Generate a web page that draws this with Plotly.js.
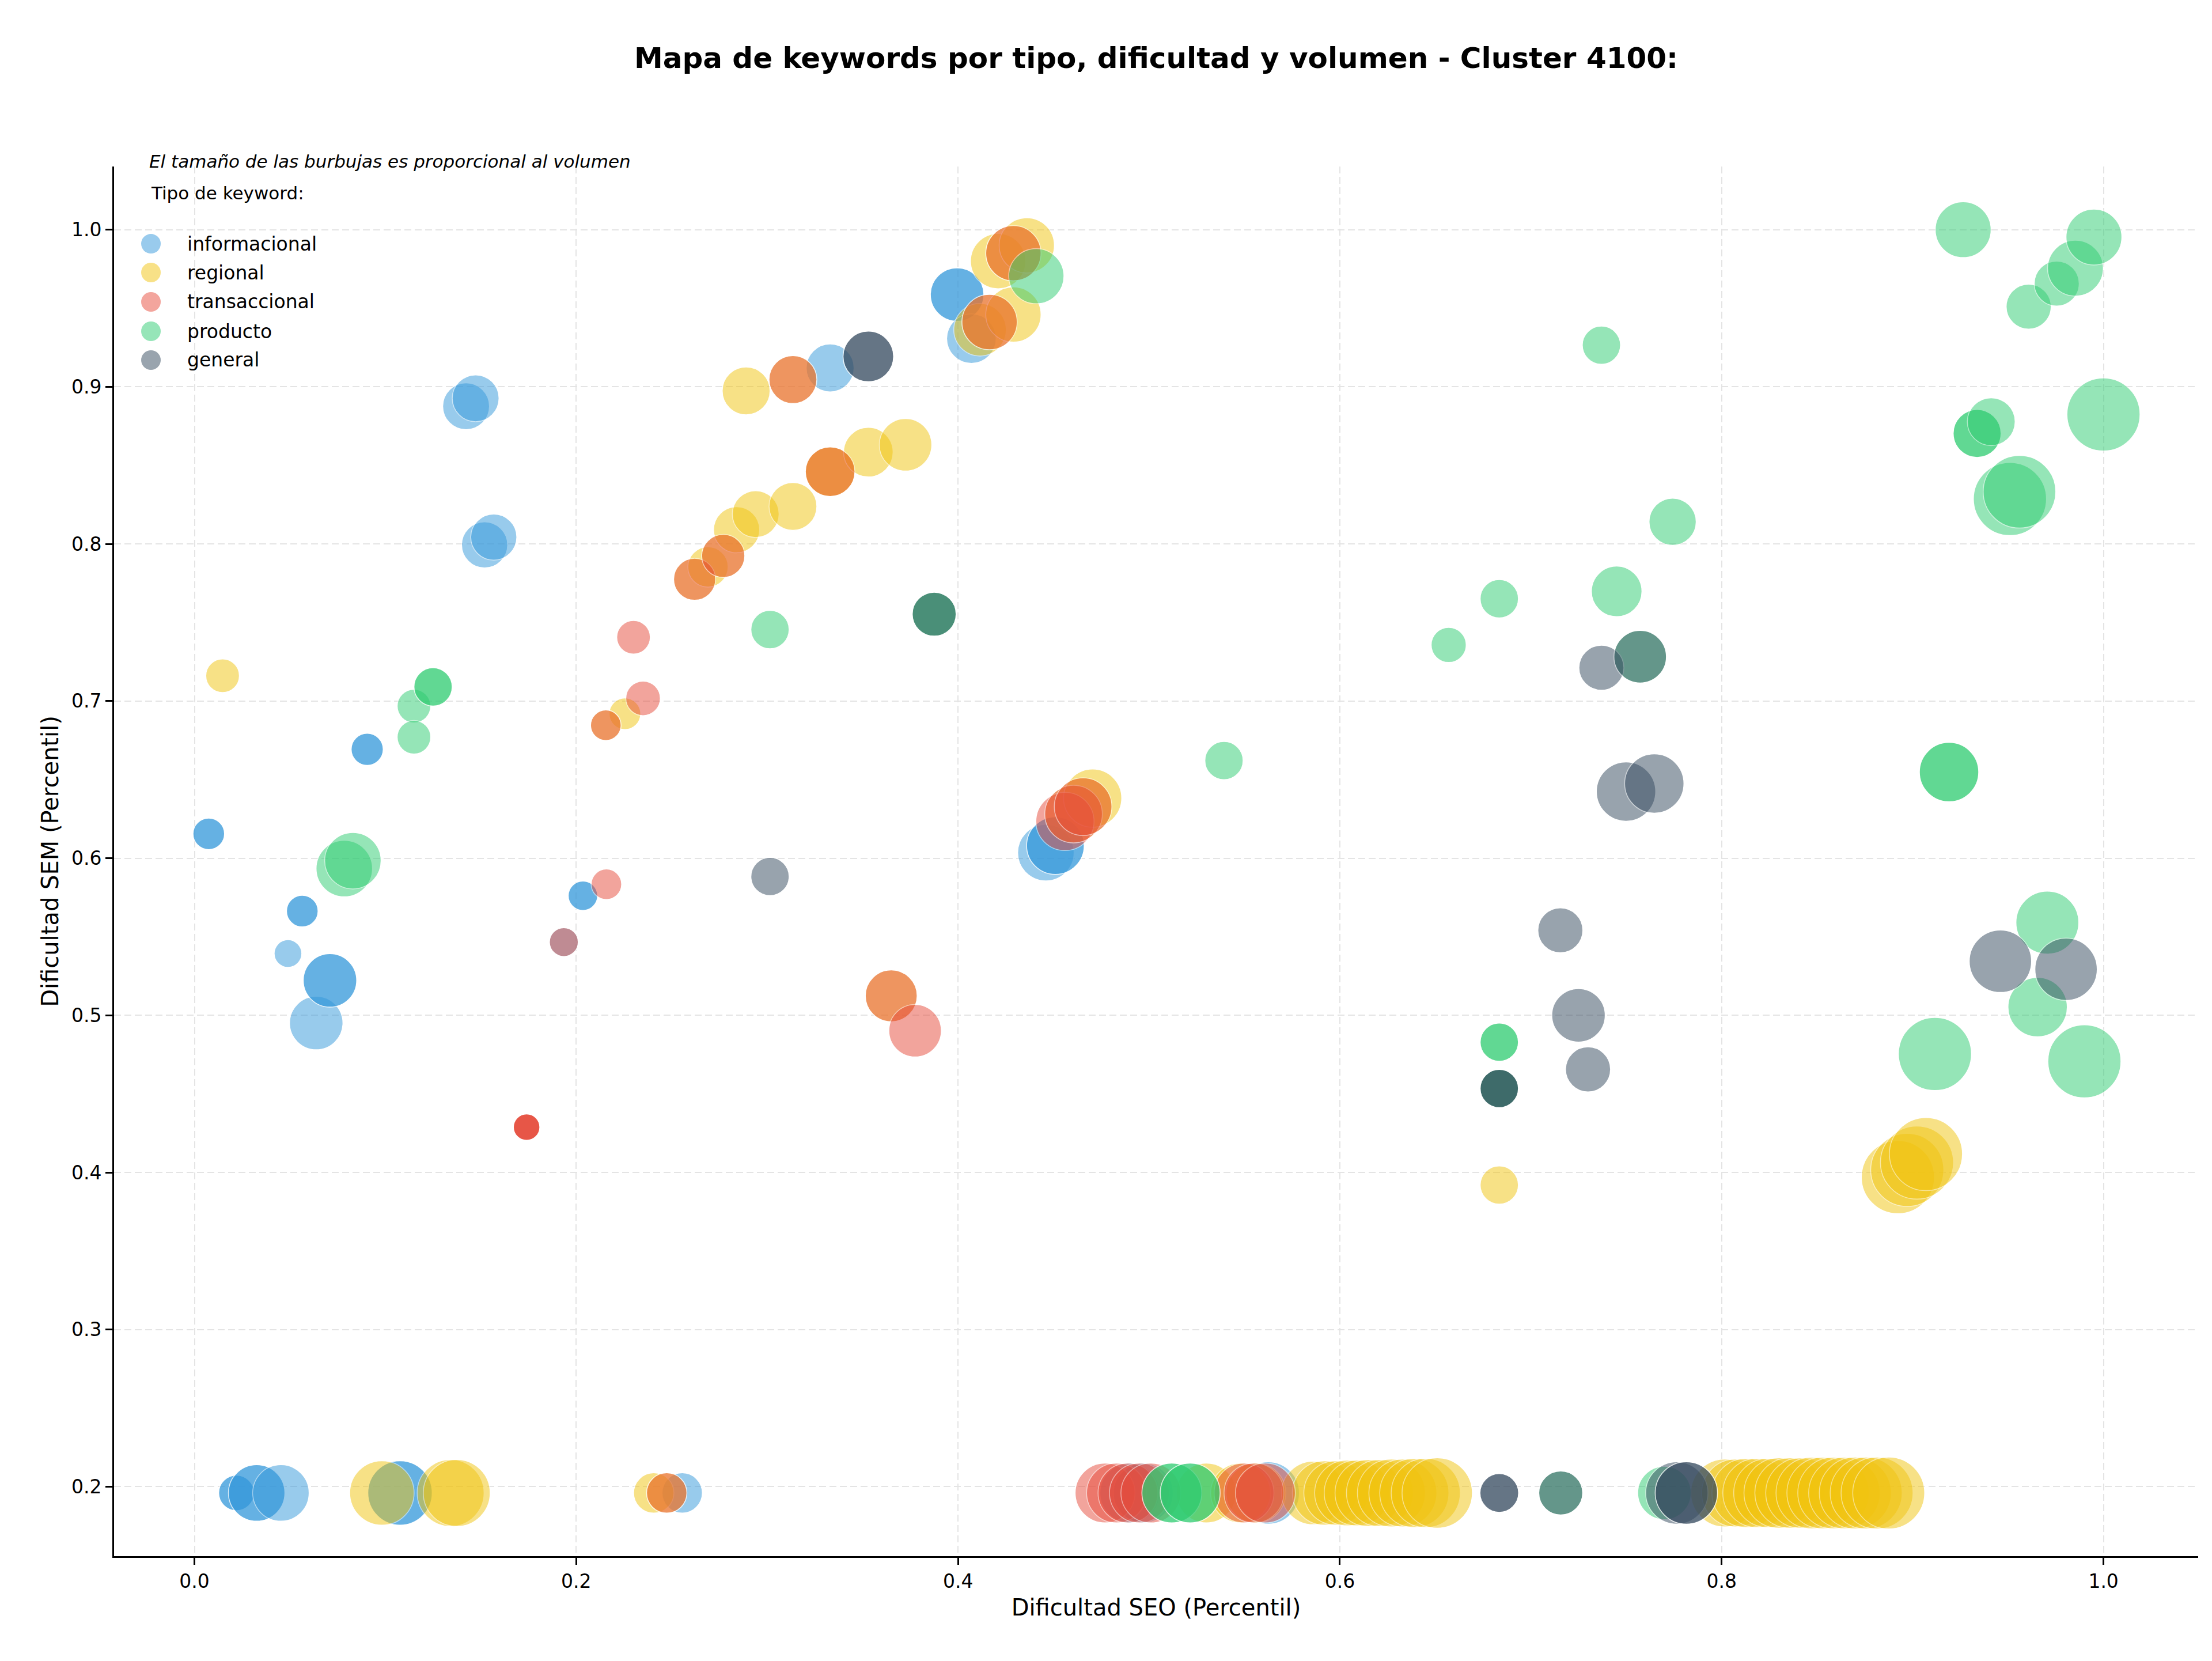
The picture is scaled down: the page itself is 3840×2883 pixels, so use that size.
<!DOCTYPE html>
<html>
<head>
<meta charset="utf-8">
<script src="https://cdn.plot.ly/plotly-3.0.1.min.js"></script>
<style>html,body{margin:0;padding:0;background:#fff;}#chart{width:3840px;height:2883px;}</style>
</head>
<body>
<div id="chart"></div>
<script>
// ---- Data ----
const tipos = ["informacional", "regional", "transaccional", "producto", "general"];
const colores = ["#3498db", "#f1c40f", "#e74c3c", "#2ecc71", "#34495e"];

const informacional_seo = [0.0075,0.0075,0.049,0.0565,0.0565,0.0638,0.071,0.071,0.0905,0.0905,0.1423,0.1473,0.152,0.1568,0.1935,0.2035,0.2035,0.333,0.3995,0.3995,0.407,0.446,0.451,0.451,
  0.022,0.022,0.0326,0.0326,0.0453,0.1077,0.1077,0.2555,0.49,0.497,0.5625];
const informacional_sem = [0.6155,0.6155,0.5393,0.5663,0.5663,0.4951,0.5222,0.5222,0.6693,0.6693,0.8876,0.8927,0.7994,0.8043,0.5466,0.5761,0.5761,0.912,0.9587,0.9587,0.9307,0.6035,0.608,0.608,
  0.196,0.196,0.196,0.196,0.196,0.196,0.196,0.196,0.196,0.196,0.196];
const informacional_vol = [30,30,23,30,30,86,86,86,31,31,66,66,64,64,25,26,26,69,86,86,74,96,100,100,
  38,38,96,96,96,125,125,49,108,108,117];

const regional_seo = [0.01475,0.2255,0.2155,0.262,0.269,0.277,0.284,0.289,0.294,0.3135,0.3135,0.333,0.333,0.353,0.3725,0.4115,0.4165,0.421,0.429,0.429,0.436,0.4605,0.4655,0.4705,0.365,0.6835,0.8923,0.8972,0.9023,0.907,
  0.0982,0.1342,0.1374,0.2406,0.2474,0.53,0.548,0.556,
  0.586,0.592,0.598,0.604,0.609,0.615,0.621,0.627,0.633,0.639,0.645,0.651,
  0.8016,0.8073,0.813,0.8187,0.8244,0.8301,0.8358,0.8415,0.8472,0.8529,0.8586,0.8643,0.87,0.8757,0.8814,0.8875];
const regional_sem = [0.7161,0.6919,0.6846,0.7775,0.7854,0.7924,0.809,0.8974,0.819,0.9046,0.8239,0.846,0.846,0.8584,0.8631,0.9363,0.9412,0.980,0.946,0.985,0.990,0.6281,0.6328,0.6382,0.5124,0.392,0.397,0.4016,0.4063,0.4117,
  0.196,0.196,0.196,0.196,0.196,0.196,0.196,0.196,
  0.196,0.196,0.196,0.196,0.196,0.196,0.196,0.196,0.196,0.196,0.196,0.196,
  0.196,0.196,0.196,0.196,0.196,0.196,0.196,0.196,0.196,0.196,0.196,0.196,0.196,0.196,0.196,0.196];
const regional_vol = [34,30,28,53,49,56,64,69,66,69,69,74,74,74,83,83,92,92,92,92,92,100,100,102,81,44,161,161,161,161,
  125,135,135,49,49,108,108,108,
  121,125,125,130,130,135,135,139,139,144,144,149,
  139,139,144,144,144,149,149,149,154,154,154,154,156,156,156,156];

const transaccional_seo = [0.174,0.174,0.174,0.174,0.1935,0.2158,0.2155,0.230,0.235,0.262,0.277,0.3135,0.333,0.4165,0.429,0.456,0.4605,0.4655,0.365,0.3775,
  0.2474,0.477,0.483,0.489,0.495,0.501,0.5498,0.555,0.561];
const transaccional_sem = [0.4288,0.4288,0.4288,0.4288,0.5466,0.5834,0.6846,0.7406,0.7017,0.7775,0.7924,0.9046,0.846,0.9412,0.985,0.6234,0.6281,0.6328,0.5124,0.4902,
  0.196,0.196,0.196,0.196,0.196,0.196,0.196,0.196,0.196];
const transaccional_vol = [21,21,21,21,25,28,28,34,36,53,56,69,74,92,92,102,100,100,81,83,
  49,108,108,108,108,108,108,108,108];

const producto_seo = [0.0785,0.083,0.115,0.115,0.125,0.125,0.3015,0.3875,0.3875,0.441,0.5393,0.657,0.6835,0.6835,0.6835,0.6835,0.6835,0.737,0.745,0.7573,0.7743,0.9117,0.9191,0.9191,0.9265,0.9338,0.9338,0.9412,0.951,0.956,0.9608,0.9655,0.9706,0.9755,0.9853,0.990,0.995,1.0,
  0.512,0.512,0.5216,0.5216,0.7157,0.770];
const producto_sem = [0.5934,0.5984,0.6968,0.677,0.709,0.709,0.7455,0.7553,0.7553,0.9704,0.6621,0.7357,0.7651,0.4829,0.4829,0.4534,0.4534,0.9265,0.7698,0.7282,0.8141,0.4754,0.6548,0.6548,1.0,0.8703,0.8703,0.8778,0.8286,0.8332,0.951,0.5052,0.559,0.9657,0.9755,0.4707,0.9953,0.8824,
  0.196,0.196,0.196,0.196,0.196,0.196];
const producto_vol = [96,96,34,34,44,44,44,58,58,92,44,37,44,44,44,44,44,44,77,83,67,161,106,106,94,69,69,69,161,159,61,106,119,61,94,161,94,161,
  108,108,108,108,58,86];

const general_seo = [0.3015,0.353,0.353,0.3875,0.6835,0.6835,0.7155,0.725,0.73,0.737,0.7499,0.7573,0.7647,0.946,0.9804,
  0.6835,0.6835,0.7157,0.7765,0.7815,0.7815];
const general_sem = [0.5883,0.9193,0.9193,0.7553,0.4534,0.4534,0.5541,0.50,0.4656,0.7212,0.6424,0.7282,0.6475,0.5344,0.5293,
  0.196,0.196,0.196,0.196,0.196,0.196];
const general_vol = [44,77,77,58,44,44,61,86,61,61,106,83,106,117,117,
  45,45,58,117,117,117];

const xTicks = [0.0, 0.2, 0.4, 0.6, 0.8, 1.0];
const yTicks = [0.2, 0.3, 0.4, 0.5, 0.6, 0.7, 0.8, 0.9, 1.0];

// ---- Build ----
const FONT = "DejaVu Sans";
const series = [
  [informacional_seo, informacional_sem, informacional_vol],
  [regional_seo, regional_sem, regional_vol],
  [transaccional_seo, transaccional_sem, transaccional_vol],
  [producto_seo, producto_sem, producto_vol],
  [general_seo, general_sem, general_vol]
];
const sizeOf = v => 10 * Math.sqrt(v);

const traces = series.map((s, i) => ({
  type: "scatter",
  mode: "markers",
  name: tipos[i],
  x: s[0], y: s[1],
  showlegend: false,
  hoverinfo: "skip",
  marker: {
    color: colores[i],
    opacity: 0.5,
    size: s[2].map(sizeOf),
    sizemode: "diameter",
    line: {color: "white", width: 1.5}
  }
}));

function hexA(hex, a) {
  const r = parseInt(hex.slice(1,3),16), g = parseInt(hex.slice(3,5),16), b = parseInt(hex.slice(5,7),16);
  return `rgba(${r},${g},${b},${a})`;
}

// manual legend (matplotlib style, larger markers)
const legY = [0.9444, 0.9237, 0.9026, 0.8814, 0.8607];
const shapes = tipos.map((t, i) => ({
  type: "circle", xref: "paper", yref: "paper",
  xsizemode: "pixel", ysizemode: "pixel",
  xanchor: 0.0177, yanchor: legY[i],
  x0: -17, x1: 17, y0: -17, y1: 17,
  fillcolor: hexA(colores[i], 0.5),
  line: {width: 0}
}));
const annotations = tipos.map((t, i) => ({
  xref: "paper", yref: "paper", x: 0.0345, y: legY[i],
  xanchor: "left", yanchor: "middle", align: "left", showarrow: false,
  text: t, font: {family: FONT, size: 33, color: "#000"}
}));
annotations.push({
  xref: "paper", yref: "paper", x: 0.0171, y: 0.9809,
  xanchor: "left", yanchor: "middle", align: "left", showarrow: false,
  text: "Tipo de keyword:", font: {family: FONT, size: 31, color: "#000"}
});
annotations.push({
  xref: "paper", yref: "paper", x: 0.0163, y: 1.0037,
  xanchor: "left", yanchor: "middle", align: "left", showarrow: false,
  text: "<i>El tamaño de las burbujas es proporcional al volumen</i>",
  font: {family: FONT, size: 31, color: "#000"}
});

const axisCommon = {
  showline: true, linecolor: "#000", linewidth: 3, mirror: false,
  ticks: "outside", ticklen: 12, tickwidth: 3, tickcolor: "#000",
  showgrid: true, gridcolor: "#e4e4e4", gridwidth: 2, griddash: "12px,6px",
  zeroline: false, automargin: false,
  tickfont: {family: FONT, size: 33, color: "#000"},
  tickformat: ".1f"
};

const layout = {
  width: 3840, height: 2883,
  paper_bgcolor: "#fff", plot_bgcolor: "#fff",
  margin: {l: 198, r: 24, t: 289, b: 182},
  font: {family: FONT, color: "#000"},
  title: {
    text: "<b>Mapa de keywords por tipo, dificultad y volumen - Cluster 4100:</b>",
    font: {family: FONT, size: 50, color: "#000"},
    x: 0.5, xref: "paper", xanchor: "center",
    y: 0.9653, yref: "container", yanchor: "middle"
  },
  xaxis: Object.assign({}, axisCommon, {
    range: [-0.0421, 1.0496], tickmode: "array", tickvals: xTicks,
    title: {text: "Dificultad SEO (Percentil)", font: {family: FONT, size: 40, color: "#000"}, standoff: 14}
  }),
  yaxis: Object.assign({}, axisCommon, {
    range: [0.1558, 1.0402], tickmode: "array", tickvals: yTicks,
    title: {text: "Dificultad SEM (Percentil)", font: {family: FONT, size: 40, color: "#000"}, standoff: 10}
  }),
  shapes: shapes,
  annotations: annotations,
  showlegend: false,
  hovermode: false
};

Plotly.newPlot("chart", traces, layout, {displayModeBar: false, staticPlot: true});
</script>
</body>
</html>
